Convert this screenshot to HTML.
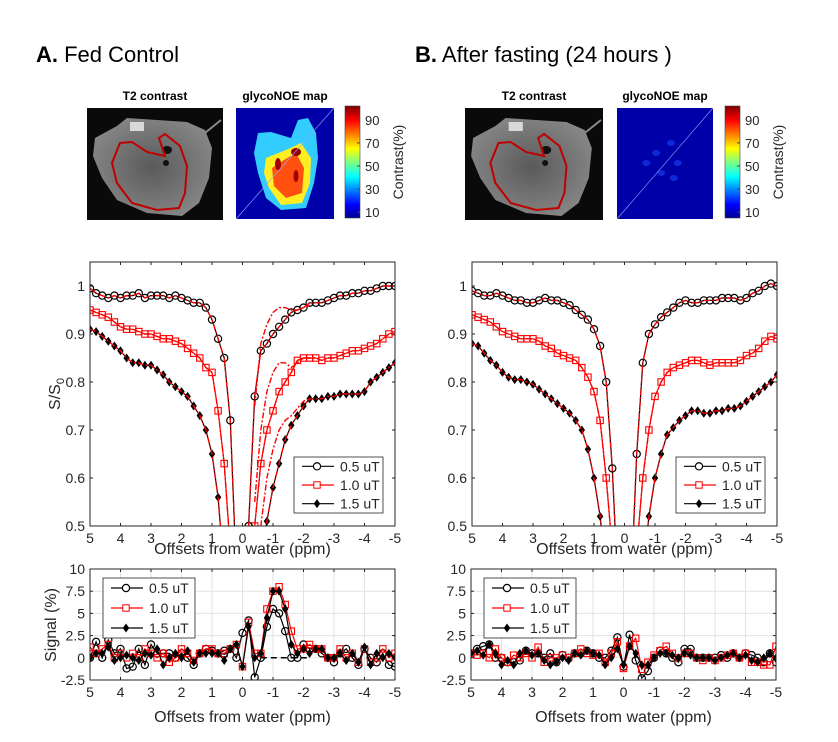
<!DOCTYPE html>
<html><head><meta charset="utf-8">
<style>
html,body{margin:0;padding:0;background:#fff;}
svg{display:block;font-family:"Liberation Sans",Arial,sans-serif;}
</style></head>
<body>
<svg id="fig" width="838" height="742" viewBox="0 0 838 742" xmlns="http://www.w3.org/2000/svg">
<defs>
<linearGradient id="jet" x1="0" y1="1" x2="0" y2="0">
<stop offset="0" stop-color="#00008f"/><stop offset="0.12" stop-color="#0000ff"/>
<stop offset="0.37" stop-color="#00ffff"/><stop offset="0.5" stop-color="#80ff80"/>
<stop offset="0.62" stop-color="#ffff00"/><stop offset="0.87" stop-color="#ff0000"/>
<stop offset="1" stop-color="#800000"/></linearGradient>
<radialGradient id="bodyg" cx="0.5" cy="0.5" r="0.6"><stop offset="0" stop-color="#5a5a5a"/><stop offset="1" stop-color="#8a8a8a"/></radialGradient>
</defs>
<text x="36" y="62" font-size="22"><tspan font-weight="bold">A.</tspan> Fed Control</text>
<text x="415" y="62" font-size="22"><tspan font-weight="bold">B.</tspan>  After fasting (24 hours )</text>
<g id="imgs"></g>
<g id="plots"></g>
</svg>
<script>
// ---- data ----
const ppm = [5,4.8,4.6,4.4,4.2,4,3.8,3.6,3.4,3.2,3,2.8,2.6,2.4,2.2,2,1.8,1.6,1.4,1.2,1,0.8,0.6,0.4,0.2,0,-0.2,-0.4,-0.6,-0.8,-1,-1.2,-1.4,-1.6,-1.8,-2,-2.2,-2.4,-2.6,-2.8,-3,-3.2,-3.4,-3.6,-3.8,-4,-4.2,-4.4,-4.6,-4.8,-5];
const xTicks = [5,4,3,2,1,0,-1,-2,-3,-4,-5];
const xTickLabels = ["5","4","3","2","1","0","-1","-2","-3","-4","-5"];
const zTicks = [0.5,0.6,0.7,0.8,0.9,1];
const zTickLabels = ["0.5","0.6","0.7","0.8","0.9","1"];
const sTicks = [-2.5,0,2.5,5,7.5,10];
const sTickLabels = ["-2.5","0","2.5","5","7.5","10"];
const seriesNames = ["0.5 uT","1.0 uT","1.5 uT"];

const zA05 = [0.995,0.985,0.98,0.975,0.98,0.975,0.98,0.98,0.985,0.975,0.98,0.98,0.98,0.975,0.98,0.975,0.97,0.965,0.965,0.955,0.93,0.89,0.85,0.72,0.4,0.3,0.5,0.77,0.865,0.88,0.9,0.915,0.93,0.945,0.95,0.955,0.965,0.965,0.965,0.97,0.975,0.98,0.98,0.985,0.985,0.99,0.99,0.995,1.0,1.0,1.0];
const zA10 = [0.95,0.945,0.94,0.935,0.925,0.915,0.91,0.91,0.905,0.9,0.9,0.895,0.89,0.89,0.885,0.88,0.87,0.86,0.85,0.83,0.82,0.74,0.63,0.45,0.3,0.25,0.3,0.5,0.63,0.7,0.74,0.78,0.8,0.82,0.845,0.85,0.85,0.85,0.845,0.85,0.85,0.855,0.86,0.865,0.865,0.87,0.875,0.88,0.89,0.9,0.905];
const zA15 = [0.91,0.905,0.895,0.885,0.875,0.865,0.85,0.84,0.84,0.835,0.835,0.825,0.815,0.8,0.79,0.78,0.77,0.75,0.73,0.7,0.65,0.56,0.4,0.3,0.25,0.2,0.25,0.32,0.42,0.51,0.58,0.63,0.68,0.71,0.73,0.75,0.765,0.765,0.765,0.77,0.77,0.775,0.775,0.775,0.775,0.78,0.8,0.81,0.82,0.83,0.84];
const fitPpm = [-0.4,-0.6,-0.8,-1,-1.2,-1.4,-1.6,-1.8,-2,-2.2];
const fitA05 = [0.75,0.88,0.92,0.945,0.955,0.955,0.95,0.95,0.955,0.96];
const fitA10 = [0.55,0.7,0.78,0.82,0.84,0.84,0.83,0.84,0.85,0.85];
const fitA15 = [0.35,0.5,0.6,0.66,0.7,0.72,0.73,0.745,0.76,0.765];

const zB05 = [0.99,0.985,0.98,0.98,0.985,0.98,0.975,0.97,0.97,0.965,0.965,0.97,0.975,0.97,0.97,0.965,0.96,0.95,0.94,0.93,0.91,0.875,0.8,0.62,0.35,0.2,0.35,0.65,0.84,0.9,0.92,0.935,0.945,0.955,0.965,0.97,0.965,0.965,0.97,0.97,0.97,0.975,0.975,0.975,0.97,0.975,0.985,0.99,1.0,1.005,1.0];
const zB10 = [0.94,0.935,0.93,0.925,0.915,0.905,0.9,0.895,0.89,0.89,0.89,0.885,0.875,0.87,0.86,0.855,0.85,0.845,0.83,0.81,0.78,0.72,0.6,0.45,0.3,0.25,0.3,0.45,0.6,0.7,0.77,0.8,0.82,0.83,0.835,0.84,0.845,0.845,0.84,0.835,0.84,0.84,0.84,0.84,0.845,0.855,0.86,0.87,0.885,0.895,0.89];
const zB15 = [0.88,0.875,0.86,0.845,0.835,0.82,0.81,0.805,0.805,0.8,0.795,0.785,0.775,0.765,0.755,0.745,0.735,0.72,0.7,0.66,0.6,0.52,0.4,0.3,0.25,0.2,0.25,0.3,0.4,0.52,0.6,0.65,0.69,0.705,0.72,0.73,0.74,0.74,0.735,0.735,0.74,0.74,0.745,0.745,0.75,0.76,0.77,0.78,0.79,0.8,0.815];

const sA05 = [0,1.8,0,2,0.5,1,-1.2,-1,1,-0.8,1.5,0.5,0.5,0.5,0,0.5,0,-0.8,0.5,1,0.8,0.5,0.8,1,0,2.8,4.2,-2.2,0,3.5,5.5,5,3,0,0,1.5,1,1,0.5,0,-0.5,0.5,1,0,-0.8,1,0,-0.5,0.5,-0.8,-1];
const sA10 = [1.2,0.5,1,1.5,0,0.5,0,0.5,0,1,0.5,0,0.5,-0.5,0,1,0.5,-0.3,0.5,1,1,0.5,0.5,1,1.5,-1,4,0.5,0.5,5.5,7.5,8,6,3,1,1,1.5,1,1,0,0,1,0,0.5,-0.5,1,-0.5,0,1,0,0.5];
const sA15 = [0,0.5,0.5,1.2,-0.3,0,0.3,0,-0.3,0.5,0.3,1,-0.8,0,0.5,0,0.8,-0.5,0.5,0.5,0.5,0.5,-0.3,1,1.5,-1,3.5,0,0.5,4.5,7.5,7.5,5.5,1.5,0.5,1,0.5,1,1,0,0,0.5,-0.3,0.5,-0.5,1.2,-0.8,0.5,0,0.5,0];
const sB05 = [0.5,1,1.3,1.5,0,0,-0.5,-0.5,-0.3,0.8,0.5,0.5,0,0.5,-0.5,0.3,0,0.5,0.5,0.8,0.5,0,0,0.8,2.3,-1,2.6,-0.3,-2.3,-1.5,0,0.8,0.5,0,-0.5,1,1,0,0,0,0,0.3,0,0.5,0,0.5,0.3,0,-0.5,0.5,-0.5];
const sB10 = [0.5,0.3,0.5,0,1,0,-0.5,0.3,0,0.5,0,1.2,-0.5,0,0,0.3,0,0.5,1,0.5,0.3,0.5,-0.5,0.5,1.8,-1.2,1.3,2.2,-1.3,-0.5,0.3,0.8,1.3,0.5,0,0.5,0.5,0,-0.3,0,-0.3,0,0.3,0.5,0,0.5,-0.5,-0.5,-0.8,-0.8,1.3];
const sB15 = [0.5,0.8,0.3,1.5,0.5,-0.8,-0.3,-0.8,0.5,0.8,0.3,0.5,-0.3,-0.8,-0.5,0,-0.3,0.5,0.3,0.8,0.5,0.3,-0.8,0,1,-0.8,1.3,0.5,-0.8,-0.8,0,0.5,0.5,0.3,0,0.5,0.3,0,0,0,-0.3,0,0.3,0.5,0,0.3,-0.3,-0.5,0,0.5,0];

const NS = "http://www.w3.org/2000/svg";
function mk(tag, attrs, parent){ const e=document.createElementNS(NS,tag); for(const k in attrs) e.setAttribute(k,attrs[k]); if(parent) parent.appendChild(e); return e; }
function txt(parent,x,y,s,size,anchor,extra){ const t=mk("text",Object.assign({x:x,y:y,"font-size":size,"text-anchor":anchor||"middle",fill:"#262626"},extra||{}),parent); t.textContent=s; return t; }

// ---- images ----
const imgs = document.getElementById("imgs");
function mri(x, y, w, h, name){
  const g = mk("g",{},imgs);
  
  
  mk("rect",{x:x,y:y,width:w,height:h,fill:"#0a0a0a"},g);
  const sx=w/136, sy=h/112;
  const P=(pts)=>pts.map(p=>(x+p[0]*sx).toFixed(1)+","+(y+p[1]*sy).toFixed(1)).join(" ");
  mk("polygon",{points:P([[8,30],[30,18],[40,10],[70,12],[100,14],[118,22],[125,40],[122,70],[112,95],[95,108],[60,105],[30,92],[15,70],[6,48]]),fill:"url(#bodyg)"},g);
  mk("line",{x1:x+118*sx,y1:y+25*sy,x2:x+134*sx,y2:y+12*sy,stroke:"#888","stroke-width":2},g);
  mk("rect",{x:x+43*sx,y:y+14*sy,width:14*sx,height:9*sy,fill:"#d8d8d8"},g);
  mk("ellipse",{cx:x+80*sx,cy:y+42*sy,rx:5,ry:4,fill:"#111"},g);
  mk("ellipse",{cx:x+79*sx,cy:y+55*sy,rx:3,ry:3,fill:"#111"},g);
  mk("polygon",{points:P([[33,35],[45,34],[60,44],[78,48],[72,30],[78,26],[93,38],[100,58],[98,85],[92,100],[70,102],[45,95],[30,75],[25,55]]),fill:"none",stroke:"#c00000","stroke-width":2},g);
  txt(imgs,x+w/2,y-8,"T2 contrast",12,"middle",{"font-weight":"bold",fill:"#000"});
}
function noe(x,y,w,h,full,name){
  const g = mk("g",{},imgs);
  
  
  mk("rect",{x:x,y:y,width:w,height:h,fill:"#0000a8"},g);
  const sx=w/98, sy=h/111;
  const P=(pts)=>pts.map(p=>(x+p[0]*sx).toFixed(1)+","+(y+p[1]*sy).toFixed(1)).join(" ");
  if(full){
    mk("polygon",{points:P([[22,25],[35,24],[55,30],[62,12],[72,10],[80,25],[82,50],[78,75],[70,100],[45,102],[30,90],[22,65],[18,45]]),fill:"#33ccff"},g);
    mk("polygon",{points:P([[30,50],[50,42],[65,35],[75,50],[74,75],[66,95],[45,97],[33,80],[28,65]]),fill:"#ffee22"},g);
    mk("polygon",{points:P([[36,60],[48,52],[60,45],[68,60],[66,85],[50,90],[38,78]]),fill:"#ff5010"},g);
    mk("ellipse",{cx:x+60*sx,cy:y+44*sy,rx:5,ry:4,fill:"#900000"},g);
    mk("ellipse",{cx:x+42*sx,cy:y+56*sy,rx:3,ry:6,fill:"#a00000"},g);
    mk("ellipse",{cx:x+60*sx,cy:y+68*sy,rx:2.5,ry:6,fill:"#a00000"},g);
  } else {
    [[40,45],[55,35],[62,55],[45,65],[58,70],[30,55]].forEach(p=>mk("ellipse",{cx:x+p[0]*sx,cy:y+p[1]*sy,rx:4,ry:3,fill:"#1028d8"},g));
  }
  mk("line",{x1:x,y1:y+h,x2:x+w,y2:y,stroke:"#9aa8ff","stroke-width":0.6},g);
  txt(imgs,x+w/2,y-8,"glycoNOE map",12,"middle",{"font-weight":"bold",fill:"#000"});
}
function cbar(x,y,w,h,name){
  const g = mk("g",{},imgs);
  
  
  mk("rect",{x:x,y:y,width:w,height:h,fill:"url(#jet)",stroke:"#444","stroke-width":0.6},g);
  const vals=[10,30,50,70,90];
  vals.forEach(v=>{ const yy=y+h-(v-5)/95*h*0.98; txt(g,x+w+5,yy+5,String(v),13,"start"); mk("line",{x1:x+w-3,x2:x+w,y1:yy,y2:yy,stroke:"#444"},g);});
  txt(g,x+w+38,y+h/2,"Contrast(%)",14,"middle",{transform:`rotate(-90 ${x+w+38} ${y+h/2})`,dy:"5"});
}
mri(87,108,136,112,"t2-image-fed"); noe(236,108,98,111,true,"glyconoe-map-fed"); cbar(345,106,15,112,"colorbar-fed");
mri(465,108,138,112,"t2-image-fasted"); noe(617,108,96,111,false,"glyconoe-map-fasted"); cbar(725,106,15,112,"colorbar-fasted");

// ---- plots ----
const plots = document.getElementById("plots");
let clipN=0;
function axes(L,R,T,B,ymin,ymax,yt,ytl,grid,name){
  const g = mk("g",{},plots);
  
  
  const xs=p=>L+(5-p)/10*(R-L);
  const ys=v=>B-(v-ymin)/(ymax-ymin)*(B-T);
  mk("rect",{x:L,y:T,width:R-L,height:B-T,fill:"#fff"},g);
  if(grid){
    xTicks.forEach(t=>mk("line",{x1:xs(t),x2:xs(t),y1:T,y2:B,stroke:"#e3e3e3","stroke-width":1},g));
    yt.forEach(t=>mk("line",{x1:L,x2:R,y1:ys(t),y2:ys(t),stroke:"#e3e3e3","stroke-width":1},g));
  }
  xTicks.forEach((t,i)=>{ mk("line",{x1:xs(t),x2:xs(t),y1:B,y2:B-3,stroke:"#262626"},g); mk("line",{x1:xs(t),x2:xs(t),y1:T,y2:T+3,stroke:"#262626"},g); txt(g,xs(t),B+17,xTickLabels[i],14); });
  yt.forEach((t,i)=>{ mk("line",{x1:L,x2:L+3,y1:ys(t),y2:ys(t),stroke:"#262626"},g); mk("line",{x1:R,x2:R-3,y1:ys(t),y2:ys(t),stroke:"#262626"},g); txt(g,L-5,ys(t)+5,ytl[i],14,"end"); });
  const id="c"+(clipN++);
  const cp=mk("clipPath",{id:id},g); mk("rect",{x:L,y:T,width:R-L,height:B-T},cp);
  const dg=mk("g",{"clip-path":`url(#${id})`},g);
  mk("rect",{x:L,y:T,width:R-L,height:B-T,fill:"none",stroke:"#262626","stroke-width":1},g);
  return {xs,ys,dg,g};
}
function series(ax,xv,yv,color,marker,name,lineColor){
  const sg=mk("g",{},ax.dg);
  
  
  const d=yv.map((v,i)=>(i?"L":"M")+ax.xs(xv[i]).toFixed(1)+","+ax.ys(v).toFixed(1)).join("");
  mk("path",{d:d,fill:"none",stroke:lineColor||color,"stroke-width":1.2},sg);
  yv.forEach((v,i)=>{
    const x=ax.xs(xv[i]), y=ax.ys(v);
    let m;
    if(marker==="o") m=mk("circle",{cx:x,cy:y,r:3.6,fill:"none",stroke:"#000","stroke-width":1.2},sg);
    else if(marker==="s") m=mk("rect",{x:x-3.2,y:y-3.2,width:6.4,height:6.4,fill:"none",stroke:"#f00","stroke-width":1.1},sg);
    else m=mk("polygon",{points:`${x},${y-4.5} ${x+3.2},${y} ${x},${y+4.5} ${x-3.2},${y}`,fill:"#000"},sg);
    
    
  });
  return sg;
}
function fitLine(ax,xv,yv,name){
  const d=yv.map((v,i)=>(i?"L":"M")+ax.xs(xv[i]).toFixed(1)+","+ax.ys(v).toFixed(1)).join("");
  const p=mk("path",{d:d,fill:"none",stroke:"#f00","stroke-width":1.4,"stroke-dasharray":"6,2,2,2"},ax.dg);
  
  
}
function legend(parent,x,y,w,h,name){
  const g=mk("g",{},parent);
  
  
  mk("rect",{x:x,y:y,width:w,height:h,fill:"#fff",stroke:"#262626","stroke-width":0.8},g);
  const mks=["o","s","d"], cols=["#000","#f00","#000"];
  for(let i=0;i<3;i++){
    const e=mk("g",{},g);
    
    
    const yy=y+h*(i+0.5)/3, lx=x+8, cx=x+23;
    mk("line",{x1:lx,x2:lx+32,y1:yy,y2:yy,stroke:cols[i],"stroke-width":1.2},e);
    if(mks[i]==="o") mk("circle",{cx:cx,cy:yy,r:3.6,fill:"#fff",stroke:"#000","stroke-width":1.2},e);
    else if(mks[i]==="s") mk("rect",{x:cx-3.2,y:yy-3.2,width:6.4,height:6.4,fill:"#fff",stroke:"#f00"},e);
    else mk("polygon",{points:`${cx},${yy-4.5} ${cx+3.2},${yy} ${cx},${yy+4.5} ${cx-3.2},${yy}`,fill:"#000"},e);
    txt(e,lx+38,yy+5,seriesNames[i],14,"start");
  }
}
function zPanel(L,R,z05,z10,z15,fits,prefix,legX){
  const ax=axes(L,R,262,526,0.5,1.05,zTicks,zTickLabels,false,prefix+"-zspectrum-axes");
  series(ax,ppm,z15,"#000","d",prefix+"-series-1p5uT");
  series(ax,ppm,z10,"#f00","s",prefix+"-series-1p0uT");
  series(ax,ppm,z05,"#000","o",prefix+"-series-0p5uT");
  [z05,z10,z15].forEach((z,i)=>fitLine(ax,ppm,z,prefix+"-fit-"+i));
  if(fits) fits.forEach((f,i)=>fitLine(ax,fitPpm,f,prefix+"-noe-free-fit-"+i));
  legend(ax.g,legX,457,89,56,prefix+"-zspectrum-legend");
  txt(ax.g,(L+R)/2,554,"Offsets from water (ppm)",16);
  return ax;
}
function sPanel(L,R,s05,s10,s15,prefix,dash){
  const ax=axes(L,R,569,680,-2.5,10,sTicks,sTickLabels,true,prefix+"-signal-axes");
  if(dash) mk("line",{x1:ax.xs(-0.6),x2:ax.xs(-2.2),y1:ax.ys(0),y2:ax.ys(0),stroke:"#000","stroke-width":1.5,"stroke-dasharray":"6,4"},ax.dg);
  series(ax,ppm,s05,"#000","o",prefix+"-signal-0p5uT");
  series(ax,ppm,s10,"#f00","s",prefix+"-signal-1p0uT");
  series(ax,ppm,s15,"#000","d",prefix+"-signal-1p5uT");
  legend(ax.g,L+13,578,92,60,prefix+"-signal-legend");
  txt(ax.g,(L+R)/2,722,"Offsets from water (ppm)",16);
  return ax;
}
const a1=zPanel(90,395,zA05,zA10,zA15,[fitA05,fitA10,fitA15],"fed",294);
const t1=txt(a1.g,60,394,"S/S",16,"middle",{transform:"rotate(-90 60 394)"});
const sub=mk("tspan",{"font-size":11,dy:"4"},t1); sub.textContent="0";
zPanel(472,777,zB05,zB10,zB15,null,"fasted",676);
const b1=sPanel(90,395,sA05,sA10,sA15,"fed",true);
txt(b1.g,56,625,"Signal (%)",16,"middle",{transform:"rotate(-90 56 625)"});
sPanel(471,776,sB05,sB10,sB15,"fasted",false);
</script>
</body></html>
